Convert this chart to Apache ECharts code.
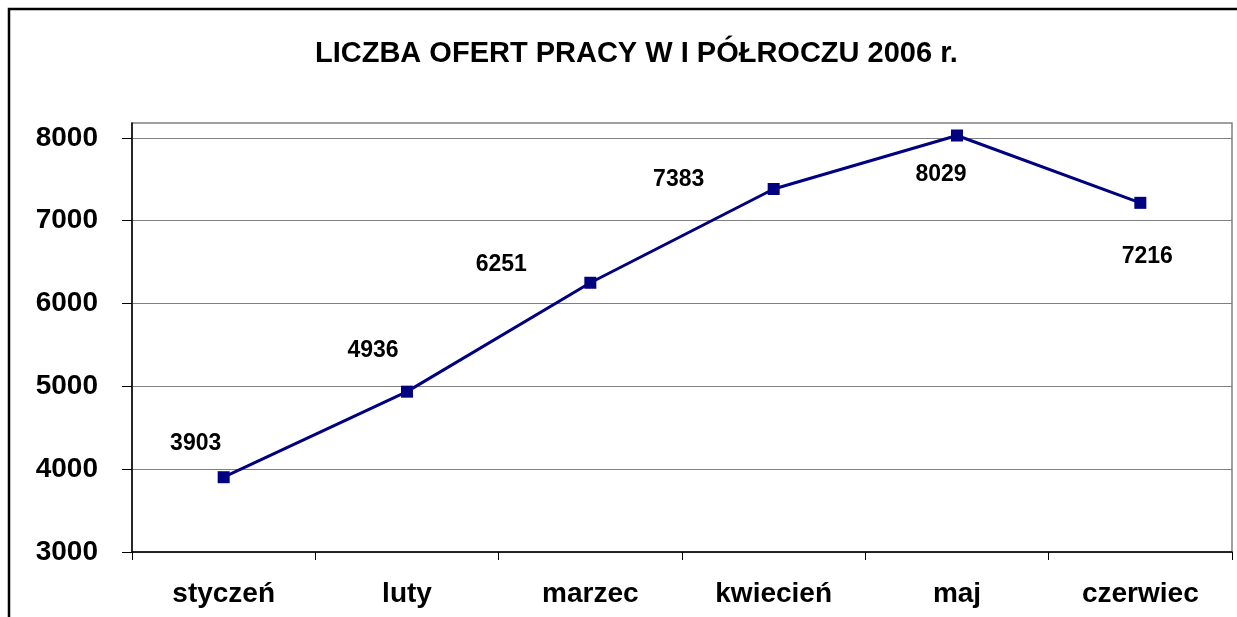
<!DOCTYPE html>
<html>
<head>
<meta charset="utf-8">
<script src="https://cdn.jsdelivr.net/npm/echarts@6/dist/echarts.min.js"></script>
<style>
  html, body { margin: 0; padding: 0; background: #fff; }
  #chart { width: 1237px; height: 617px; }
</style>
</head>
<body>
<div id="chart"></div>
<script>
// dane z wykresu
const months = ['styczeń', 'luty', 'marzec', 'kwiecień', 'maj', 'czerwiec'];
const offers = [3903, 4936, 6251, 7383, 8029, 7216];
const yTicks = [3000, 4000, 5000, 6000, 7000, 8000];

// przesunięcia etykiet jak w oryginale (ręcznie ustawione w Excelu)
const labelShift = [[-28, -34], [-34, -41], [-89, -18], [-95, -9], [-16, 39], [7, 54]];

const chart = echarts.init(document.getElementById('chart'));
const font = '"Liberation Sans", Arial, sans-serif';

const option = {
    animation: false,
    backgroundColor: '#fff',
    title: {
        text: 'LICZBA OFERT PRACY W I PÓŁROCZU 2006 r.',
        left: 310,
        top: 34,
        textStyle: { fontFamily: font, fontWeight: 'bold', fontSize: 29, color: '#000' }
    },
    graphic: [{
        type: 'rect',
        silent: true,
        shape: { x: 9, y: 9, width: 1300, height: 700 },
        style: { fill: 'none', stroke: '#000', lineWidth: 2.5 }
    }],
    grid: {
        left: 132,
        right: 5,
        top: 123,
        bottom: 65,
        show: true,
        borderColor: '#808080',
        borderWidth: 1.5
    },
    xAxis: {
        type: 'category',
        data: months,
        boundaryGap: true,
        axisLine: { lineStyle: { color: '#000', width: 1.5 } },
        axisTick: { show: true, length: 8, lineStyle: { color: '#000' } },
        axisLabel: {
            margin: 28,
            fontFamily: font, fontWeight: 'bold', fontSize: 28, color: '#000'
        },
        splitLine: { show: false }
    },
    yAxis: {
        type: 'value',
        min: 3000,
        max: 8180,
        interval: 1000,
        axisLine: { show: true, lineStyle: { color: '#000', width: 1.5 } },
        axisTick: { show: true, length: 10, customValues: yTicks, lineStyle: { color: '#000' } },
        axisLabel: {
            customValues: yTicks,
            formatter: v => String(v),
            margin: 34,
            fontFamily: font, fontWeight: 'bold', fontSize: 28, color: '#000'
        },
        splitLine: { show: true, lineStyle: { color: '#808080', width: 1 } }
    },
    series: [{
        type: 'line',
        data: offers.map((v, i) => ({
            value: v,
            label: { offset: labelShift[i] }
        })),
        symbol: 'rect',
        symbolSize: 12,
        itemStyle: { color: '#000080' },
        lineStyle: { color: '#000080', width: 3 },
        label: {
            show: true,
            position: 'inside',
            fontFamily: font, fontWeight: 'bold', fontSize: 23, color: '#000'
        }
    }]
};

chart.setOption(option);
window.addEventListener('resize', chart.resize);
</script>
</body>
</html>
